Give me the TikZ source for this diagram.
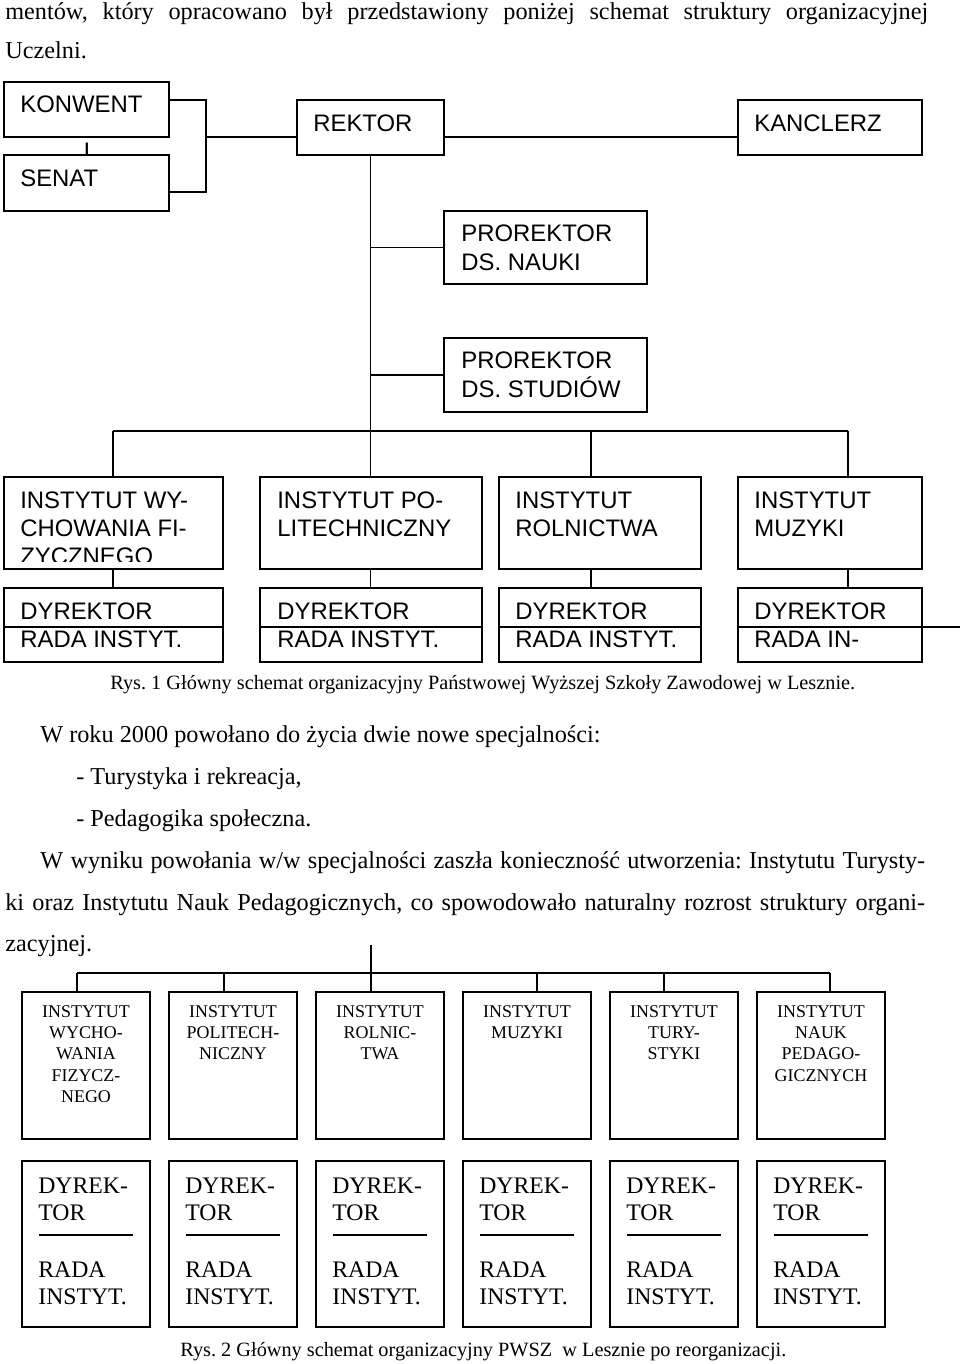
\documentclass[tikz,border=0pt]{standalone}
\usepackage{fontspec}
\setmainfont{Liberation Serif}
\newfontfamily\arialfont{Liberation Sans}
\usetikzlibrary{fit}
\frenchspacing
\newcommand\rowsL[1]{\vtop{\halign{##\hfil\cr#1\crcr}}}
\newcommand\rowsC[1]{\vtop{\halign{\hfil##\hfil\cr#1\crcr}}}
\tikzset{
  orgbox/.style={draw, line width=1pt, inner sep=0pt, fill=white},
  orgtxt/.style={anchor=base west, inner sep=0pt, font=\arialfont\fontsize{13.6}{16.2}\selectfont},
  bodytxt/.style={anchor=base west, inner sep=0pt, font=\fontsize{13.8}{16}\selectfont},
  captxt/.style={anchor=base west, inner sep=0pt, font=\fontsize{11.55}{14}\selectfont},
  insttxt/.style={anchor=base, inner sep=0pt, font=\fontsize{10.2}{12.2}\selectfont},
  dyrtxt/.style={anchor=base west, inner sep=0pt, font=\fontsize{13.5}{15.9}\selectfont},
  link/.style={line width=1pt},
}

\begin{document}
\begin{tikzpicture}[x=0.02cm, y=-0.02cm]
\useasboundingbox (0,0) rectangle (960,1364);
% text above the first chart
\node (top1) [bodytxt] at (5,20) {\makebox[18.46cm][s]{mentów, który opracowano był przedstawiony poniżej schemat struktury organizacyjnej}};
\node (top2) [bodytxt] at (5,59) {Uczelni.};

% Rys. 1
\node (konwent)  [orgbox, fit={(4,82) (169,137)}] {};
\begin{scope}
\clip (70,141) rectangle (105,155);
\node (konwentI) [orgtxt, anchor=base] at (87,160) {I};
\end{scope}
\node (senat)    [orgbox, fit={(4,155) (169,211)}] {};
\node (rektor)   [orgbox, fit={(297,100) (444,155)}] {};
\node (kanclerz) [orgbox, fit={(738,100) (922,155)}] {};
\node (nauki)    [orgbox, fit={(444,211) (647,284)}] {};
\node (studia)   [orgbox, fit={(444,338) (647,412)}] {};
\node (iwf)      [orgbox, fit={(4,477) (223,569)}] {};
\node (ipol)     [orgbox, fit={(260,477) (482,569)}] {};
\node (irol)     [orgbox, fit={(499,477) (701,569)}] {};
\node (imuz)     [orgbox, fit={(738,477) (922,569)}] {};
\node (dwf)      [orgbox, fit={(4,588) (223,662)}] {};
\node (dpol)     [orgbox, fit={(260,588) (482,662)}] {};
\node (drol)     [orgbox, fit={(499,588) (701,662)}] {};
\node (dmuz)     [orgbox, fit={(738,588) (922,662)}] {};

\node (konwentT)  [orgtxt] at (20,113) {KONWENT};
\node (senatT)    [orgtxt] at (20,187) {SENAT};
\node (rektorT)   [orgtxt] at (313,132) {REKTOR};
\node (kanclerzT) [orgtxt] at (754,132) {KANCLERZ};
\node (naukiT)    [orgtxt] at (461,242) {\rowsL{PROREKTOR\cr DS. NAUKI}};
\node (studiaT)   [orgtxt] at (461,369) {\rowsL{PROREKTOR\cr DS. STUDIÓW}};
\begin{scope}
\clip (4,477) rectangle (223,561);
\node (iwfT) [orgtxt] at (20,508) {\rowsL{INSTYTUT WY-\cr CHOWANIA FI-\cr ZYCZNEGO}};
\end{scope}
\node (ipolT) [orgtxt] at (277,508) {\rowsL{INSTYTUT PO-\cr LITECHNICZNY}};
\node (irolT) [orgtxt] at (515,508) {\rowsL{INSTYTUT\cr ROLNICTWA}};
\node (imuzT) [orgtxt] at (754,508) {\rowsL{INSTYTUT\cr MUZYKI}};
\node (dwfT)  [orgtxt] at (20,619)  {\rowsL{DYREKTOR\cr RADA INSTYT.}};
\node (dpolT) [orgtxt] at (277,619) {\rowsL{DYREKTOR\cr RADA INSTYT.}};
\node (drolT) [orgtxt] at (515,619) {\rowsL{DYREKTOR\cr RADA INSTYT.}};
\node (dmuzT) [orgtxt] at (754,619) {\rowsL{DYREKTOR\cr RADA IN-}};

\coordinate (kb) at (206,137);
\coordinate (busA) at (113,431);
\coordinate (busB) at (848,431);
\coordinate (jrol) at (591,431);
\coordinate (edge) at (960,627);
\draw[link] (konwent.east |- 0,100) -| (kb) |- (senat.east |- 0,192);
\draw[link] (kb) -- (kb -| rektor.west);
\draw[link] (rektor.east |- kb) -- (kanclerz.west |- kb);
\draw[link] (rektor.south) -- (rektor.south |- ipol.north);
\draw[link] (rektor.south |- nauki.west) -- (nauki.west);
\draw[link] (rektor.south |- studia.west) -- (studia.west);
\draw[link] (busA) -- (busB);
\draw[link] (busA) -- (busA |- iwf.north);
\draw[link] (jrol) -- (jrol |- irol.north);
\draw[link] (busB) -- (busB |- imuz.north);
\draw[link] (busA |- iwf.south) -- (busA |- dwf.north);
\draw[link] (rektor.south |- ipol.south) -- (rektor.south |- dpol.north);
\draw[link] (jrol |- irol.south) -- (jrol |- drol.north);
\draw[link] (busB |- imuz.south) -- (busB |- dmuz.north);
\draw[link] (dwf.west |- 0,627) -- (dwf.east |- 0,627);
\draw[link] (dpol.west |- 0,627) -- (dpol.east |- 0,627);
\draw[link] (drol.west |- 0,627) -- (drol.east |- 0,627);
\draw[link] (dmuz.west |- edge) -- (edge);

\node (cap1) [captxt] at (110,689) {Rys. 1 Główny schemat organizacyjny Państwowej Wyższej Szkoły Zawodowej w Lesznie.};

% text between the charts
\node (par1) [bodytxt] at (40,742) {W roku 2000 powołano do życia dwie nowe specjalności:};
\node (par2) [bodytxt] at (76,784) {- Turystyka i rekreacja,};
\node (par3) [bodytxt] at (76,826) {- Pedagogika społeczna.};
\node (par4) [bodytxt] at (40,868) {\makebox[17.7cm][s]{W wyniku powołania w/w specjalności zaszła konieczność utworzenia: Instytutu Turysty-}};
\node (par5) [bodytxt] at (5,910) {\makebox[18.4cm][s]{ki oraz Instytutu Nauk Pedagogicznych, co spowodowało naturalny rozrost struktury organi-}};
\node (par6) [bodytxt] at (5,951) {zacyjnej.};

% Rys. 2
\node (w1) [orgbox, fit={(22,992) (150,1139)}] {};
\node (w2) [orgbox, fit={(169,992) (297,1139)}] {};
\node (w3) [orgbox, fit={(316,992) (444,1139)}] {};
\node (w4) [orgbox, fit={(463,992) (591,1139)}] {};
\node (w5) [orgbox, fit={(610,992) (738,1139)}] {};
\node (w6) [orgbox, fit={(757,992) (885,1139)}] {};
\node (d1) [orgbox, fit={(22,1161) (150,1327)}] {};
\node (d2) [orgbox, fit={(169,1161) (297,1327)}] {};
\node (d3) [orgbox, fit={(316,1161) (444,1327)}] {};
\node (d4) [orgbox, fit={(463,1161) (591,1327)}] {};
\node (d5) [orgbox, fit={(610,1161) (738,1327)}] {};
\node (d6) [orgbox, fit={(757,1161) (885,1327)}] {};

\node (w1T) [insttxt] at (86,1017)  {\rowsC{INSTYTUT\cr WYCHO-\cr WANIA\cr FIZYCZ-\cr NEGO}};
\node (w2T) [insttxt] at (233,1017) {\rowsC{INSTYTUT\cr POLITECH-\cr NICZNY}};
\node (w3T) [insttxt] at (380,1017) {\rowsC{INSTYTUT\cr ROLNIC-\cr TWA}};
\node (w4T) [insttxt] at (527,1017) {\rowsC{INSTYTUT\cr MUZYKI}};
\node (w5T) [insttxt] at (674,1017) {\rowsC{INSTYTUT\cr TURY-\cr STYKI}};
\node (w6T) [insttxt] at (821,1017) {\rowsC{INSTYTUT\cr NAUK\cr PEDAGO-\cr GICZNYCH}};

\node (d1T) [dyrtxt] at (38,1193)  {\rowsL{DYREK-\cr TOR}};
\node (d2T) [dyrtxt] at (185,1193) {\rowsL{DYREK-\cr TOR}};
\node (d3T) [dyrtxt] at (332,1193) {\rowsL{DYREK-\cr TOR}};
\node (d4T) [dyrtxt] at (479,1193) {\rowsL{DYREK-\cr TOR}};
\node (d5T) [dyrtxt] at (626,1193) {\rowsL{DYREK-\cr TOR}};
\node (d6T) [dyrtxt] at (773,1193) {\rowsL{DYREK-\cr TOR}};
\node (d1R) [dyrtxt] at (38,1277)  {\rowsL{RADA\cr INSTYT.}};
\node (d2R) [dyrtxt] at (185,1277) {\rowsL{RADA\cr INSTYT.}};
\node (d3R) [dyrtxt] at (332,1277) {\rowsL{RADA\cr INSTYT.}};
\node (d4R) [dyrtxt] at (479,1277) {\rowsL{RADA\cr INSTYT.}};
\node (d5R) [dyrtxt] at (626,1277) {\rowsL{RADA\cr INSTYT.}};
\node (d6R) [dyrtxt] at (773,1277) {\rowsL{RADA\cr INSTYT.}};
\draw[link] (39,1235) -- (133,1235);
\draw[link] (186,1235) -- (280,1235);
\draw[link] (333,1235) -- (427,1235);
\draw[link] (480,1235) -- (574,1235);
\draw[link] (627,1235) -- (721,1235);
\draw[link] (774,1235) -- (868,1235);

\coordinate (stem) at (371,945);
\coordinate (j1) at (77,973);
\coordinate (j2) at (224,973);
\coordinate (j4) at (537,973);
\coordinate (j5) at (664,973);
\coordinate (j6) at (830,973);
\draw[link] (j1) -- (j6);
\draw[link] (stem) -- (stem |- w3.north);
\draw[link] (j1) -- (j1 |- w1.north);
\draw[link] (j2) -- (j2 |- w2.north);
\draw[link] (j4) -- (j4 |- w4.north);
\draw[link] (j5) -- (j5 |- w5.north);
\draw[link] (j6) -- (j6 |- w6.north);

\node (cap2) [captxt] at (180,1356) {Rys. 2 Główny schemat organizacyjny PWSZ~ w Lesznie po reorganizacji.};
\end{tikzpicture}
\end{document}
